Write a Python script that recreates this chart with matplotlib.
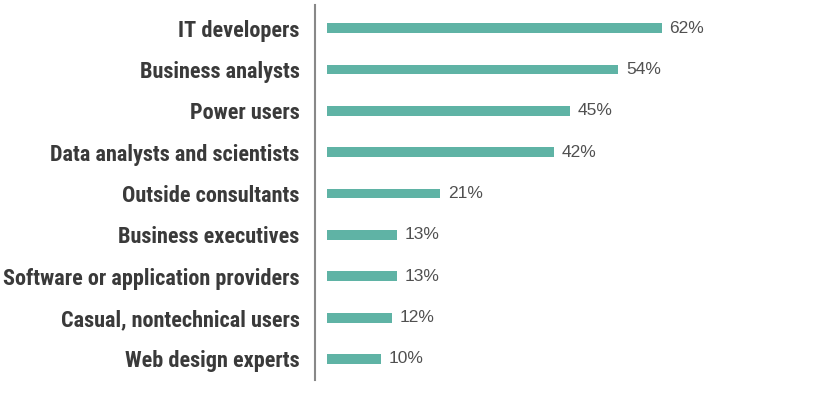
import matplotlib.pyplot as plt
from matplotlib import font_manager

categories = ["IT developers", "Business analysts", "Power users",
              "Data analysts and scientists", "Outside consultants",
              "Business executives", "Software or application providers",
              "Casual, nontechnical users", "Web design experts"]
values = [62, 54, 45, 42, 21, 13, 13, 12, 10]

# condensed bold face for the category labels, first one installed wins
names = {f.name for f in font_manager.fontManager.ttflist}
label_font = "DejaVu Sans"
for cand in ["Roboto Condensed", "Archivo Narrow", "Asap Condensed",
             "Barlow Condensed", "Oswald"]:
    if cand in names:
        label_font = cand
        break

W, H = 837, 396
fig = plt.figure(figsize=(W / 100, H / 100), dpi=100)
ax = fig.add_axes([315 / W, 16 / H, 1 - 315 / W, (380 - 5) / H])

ypos = list(range(len(categories)))
ax.barh(ypos, values, height=0.24, color="#5fb3a5")
for y, v in zip(ypos, values):
    ax.text(v + 1.4, y, f"{v}%", va="center", ha="left", fontsize=12.5,
            color="#505050", family="Liberation Sans")

ax.set_xlim(-2.2, 94.5)
ax.set_ylim(8.51, -0.56)
ax.set_yticks(ypos)
ax.set_yticklabels(categories, fontsize=16, fontweight="bold", color="#3a3a3a",
                   family=label_font)
ax.tick_params(axis="y", length=0, pad=11)
ax.set_xticks([])
for s in ["top", "right", "bottom"]:
    ax.spines[s].set_visible(False)
ax.spines["left"].set_color("#888888")
ax.spines["left"].set_linewidth(1.5)

fig.savefig("out.png", dpi=100)
